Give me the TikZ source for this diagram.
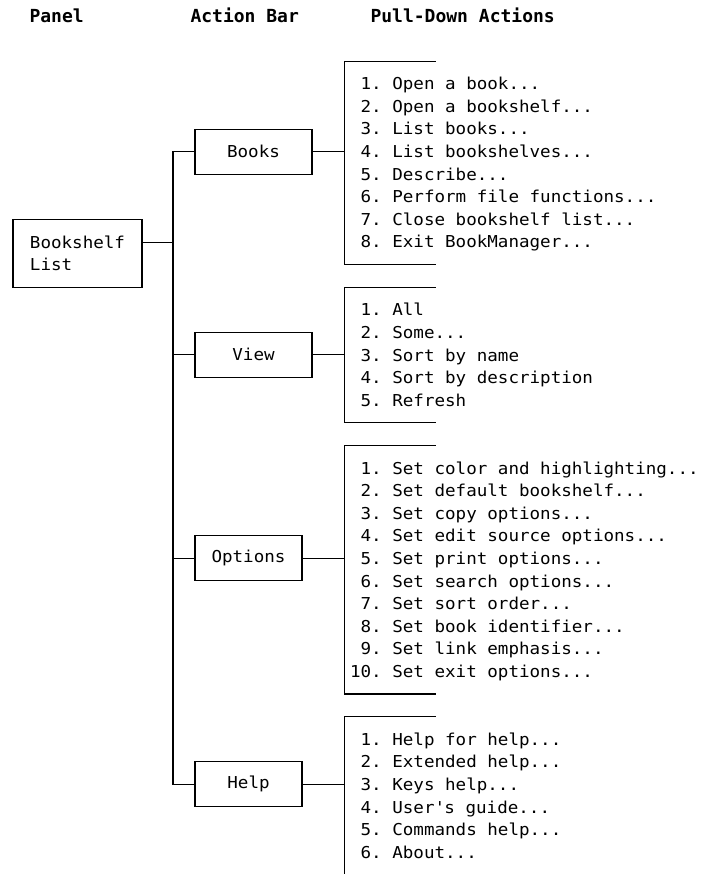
\documentclass[tikz,border=0pt]{standalone}
\usepackage{fontspec}
\newfontfamily\menufont[FakeStretch=1.07]{DejaVu Sans Mono}
\newfontfamily\headfont{DejaVu Sans Mono}
\newcommand{\ddd}{...}
\frenchspacing

\begin{document}
\begin{tikzpicture}[x=1pt, y=-1pt, line width=1.1pt,
	menu/.style={font=\menufont\fontsize{16.4}{22.6}\selectfont},
	head/.style={font=\headfont\bfseries\fontsize{18}{20}\selectfont, anchor=west, inner sep=0pt, text height=13pt, text depth=0pt},
	abox/.style={menu, draw, inner sep=0pt, minimum height=45pt},
	pitem/.style={menu, anchor=west, inner sep=0pt, text height=12pt, text depth=0pt}]
	\useasboundingbox (0,0) rectangle (701,874);
	
	% Column titles
	\node[head] (panel) at (29,16) {Panel};
	\node[head] (actbar) at (190,16) {Action Bar};
	\node[head] (pulldown) at (370,16) {Pull-Down Actions};
	
	% Panel and action bar
	\node[abox, align=left, minimum width=129pt, minimum height=68pt] (shelf) at (77.5,253.3) {Bookshelf\\List};
	\node[abox, minimum width=117pt] (books) at (253.5,151.6) {Books};
	\node[abox, minimum width=117pt] (view) at (253.5,354.6) {View};
	\node[abox, minimum width=107pt] (options) at (248.5,558.4) {Options};
	\node[abox, minimum width=107pt] (help) at (248.5,784.4) {Help};
	
	\coordinate (trunk) at (173,0);
	\draw (books.west) -- (books.west -| trunk) |- (help.west);
	\draw (view.west) -- (view.west -| trunk);
	\draw (options.west) -- (options.west -| trunk);
	\draw ([yshift=11pt]shelf.east) -- ([yshift=11pt]shelf.east -| trunk);
	
	% Books pull-down
	\coordinate (bk-top) at (344.6,61.2);
	\coordinate (bk-bot) at (344.6,264.6);
	\draw ([xshift=91pt]bk-top) -- (bk-top) -- (bk-bot) -- ([xshift=91pt]bk-bot);
	\draw (books.east) -- (books.east -| bk-top);
	\foreach \t [count=\i] in {Open a book\ddd, Open a bookshelf\ddd, List books\ddd, List bookshelves\ddd, Describe\ddd, Perform file functions\ddd, Close bookshelf list\ddd, Exit BookManager\ddd}
		\node[pitem] (bk\i) at (349.5,{61.2+22.6*\i}) {\phantom{0}\i. \t};
	
	% View pull-down
	\coordinate (vw-top) at (344.6,287.2);
	\coordinate (vw-bot) at (344.6,422.8);
	\draw ([xshift=91pt]vw-top) -- (vw-top) -- (vw-bot) -- ([xshift=91pt]vw-bot);
	\draw (view.east) -- (view.east -| vw-top);
	\foreach \t [count=\i] in {All, Some\ddd, Sort by name, Sort by description, Refresh}
		\node[pitem] (vw\i) at (349.5,{287.2+22.6*\i}) {\phantom{0}\i. \t};
	
	% Options pull-down
	\coordinate (op-top) at (344.6,445.4);
	\coordinate (op-bot) at (344.6,694);
	\draw ([xshift=91pt]op-top) -- (op-top) -- (op-bot) -- ([xshift=91pt]op-bot);
	\draw (options.east) -- (options.east -| op-top);
	\foreach \t [count=\i] in {Set color and highlighting\ddd, Set default bookshelf\ddd, Set copy options\ddd, Set edit source options\ddd, Set print options\ddd, Set search options\ddd, Set sort order\ddd, Set book identifier\ddd, Set link emphasis\ddd, Set exit options\ddd}
		\node[pitem] (op\i) at (349.5,{445.4+22.6*\i}) {\ifnum\i<10 \phantom{0}\fi\i. \t};
	
	% Help pull-down
	\coordinate (hp-top) at (344.6,716.6);
	\coordinate (hp-end) at (344.6,874);
	\draw ([xshift=91pt]hp-top) -- (hp-top) -- (hp-end);
	\draw (help.east) -- (help.east -| hp-top);
	\foreach \t [count=\i] in {Help for help\ddd, Extended help\ddd, Keys help\ddd, User\textquotesingle s guide\ddd, Commands help\ddd, About\ddd}
		\node[pitem] (hp\i) at (349.5,{716.6+22.6*\i}) {\phantom{0}\i. \t};
	
\end{tikzpicture}
\end{document}
